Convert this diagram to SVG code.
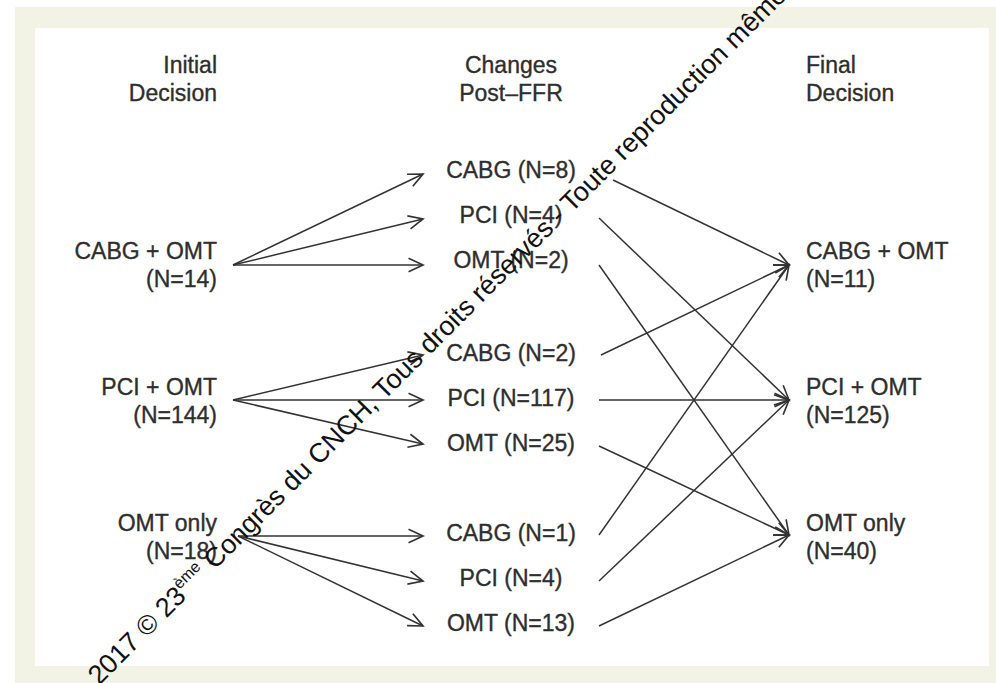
<svg xmlns="http://www.w3.org/2000/svg" width="996" height="683" viewBox="0 0 996 683">
<style>
  text { font-family: "Liberation Sans", Arial, sans-serif; font-size: 23px; fill: #2e2e2e; stroke: #2e2e2e; stroke-width: 0.35; }
  .r { text-anchor: end; }
  .m { text-anchor: middle; }
  .l { text-anchor: start; }
  .c { fill: none; stroke: #333; stroke-width: 1.5; }
  .wm { font-size: 27px; fill: #111; stroke: none; }
</style>
<defs>
  <marker id="ah" markerUnits="userSpaceOnUse" markerWidth="20" markerHeight="20" viewBox="-16 -8 18 16" refX="0" refY="0" orient="auto">
    <path d="M-13,-6 L0,0 L-13,6" fill="none" stroke="#333" stroke-width="1.5"/>
  </marker>
</defs>
<rect x="0" y="0" width="996" height="683" fill="#ffffff"/>
<rect x="15" y="7" width="981" height="676" fill="#f2f2e5"/>
<rect x="35" y="28" width="954" height="638" fill="#ffffff"/>

<g id="connectors">
  <path class="c" marker-end="url(#ah)" d="M233,265 L423,174"/>
  <path class="c" marker-end="url(#ah)" d="M233,265 L423,219"/>
  <path class="c" marker-end="url(#ah)" d="M233,265 L423,265"/>
  <path class="c" marker-end="url(#ah)" d="M233,400 L423,355"/>
  <path class="c" marker-end="url(#ah)" d="M233,400 L423,400"/>
  <path class="c" marker-end="url(#ah)" d="M233,400 L423,444"/>
  <path class="c" marker-end="url(#ah)" d="M238,536 L423,536"/>
  <path class="c" marker-end="url(#ah)" d="M238,536 L423,581"/>
  <path class="c" marker-end="url(#ah)" d="M238,536 L423,626"/>

  <path class="c" marker-end="url(#ah)" d="M613,180 L789,265"/>
  <path class="c" marker-end="url(#ah)" d="M599,218 L789,400"/>
  <path class="c" marker-end="url(#ah)" d="M599,265 L789,535"/>
  <path class="c" marker-end="url(#ah)" d="M601,355 L789,265"/>
  <path class="c" marker-end="url(#ah)" d="M599,400 L789,400"/>
  <path class="c" marker-end="url(#ah)" d="M599,446 L789,535"/>
  <path class="c" marker-end="url(#ah)" d="M599,535 L789,265"/>
  <path class="c" marker-end="url(#ah)" d="M599,581 L789,400"/>
  <path class="c" marker-end="url(#ah)" d="M599,626 L789,535"/>
</g>

<g id="header-initial"><text class="r" x="217" y="73">Initial</text><text class="r" x="217" y="101">Decision</text></g>
<g id="header-changes"><text class="m" x="511" y="73">Changes</text><text class="m" x="511" y="101">Post–FFR</text></g>
<g id="header-final"><text class="l" x="806" y="73">Final</text><text class="l" x="806" y="101">Decision</text></g>

<g id="init-cabg"><text class="r" x="217" y="259">CABG + OMT</text><text class="r" x="217" y="287">(N=14)</text></g>
<g id="init-pci"><text class="r" x="217" y="395">PCI + OMT</text><text class="r" x="217" y="423">(N=144)</text></g>
<g id="init-omt"><text class="r" x="217" y="531">OMT only</text><text class="r" x="217" y="559">(N=18)</text></g>

<g id="c1-cabg"><text class="m" x="511" y="178">CABG (N=8)</text></g>
<g id="c1-pci"><text class="m" x="511" y="223">PCI (N=4)</text></g>
<g id="c1-omt"><text class="m" x="511" y="268">OMT (N=2)</text></g>
<g id="c2-cabg"><text class="m" x="511" y="361">CABG (N=2)</text></g>
<g id="c2-pci"><text class="m" x="511" y="406">PCI (N=117)</text></g>
<g id="c2-omt"><text class="m" x="511" y="451">OMT (N=25)</text></g>
<g id="c3-cabg"><text class="m" x="511" y="541">CABG (N=1)</text></g>
<g id="c3-pci"><text class="m" x="511" y="586">PCI (N=4)</text></g>
<g id="c3-omt"><text class="m" x="511" y="631">OMT (N=13)</text></g>

<g id="final-cabg"><text class="l" x="806" y="259">CABG + OMT</text><text class="l" x="806" y="287">(N=11)</text></g>
<g id="final-pci"><text class="l" x="806" y="395">PCI + OMT</text><text class="l" x="806" y="423">(N=125)</text></g>
<g id="final-omt"><text class="l" x="806" y="531">OMT only</text><text class="l" x="806" y="559">(N=40)</text></g>

<g id="watermark">
  <text class="wm" transform="translate(99,686) rotate(-45)">2017 © 23<tspan font-size="16" dy="-11">ème</tspan><tspan dy="11"> Congrès du CNCH, Tous droits réservés - Toute reproduction même</tspan></text>
</g>
</svg>
